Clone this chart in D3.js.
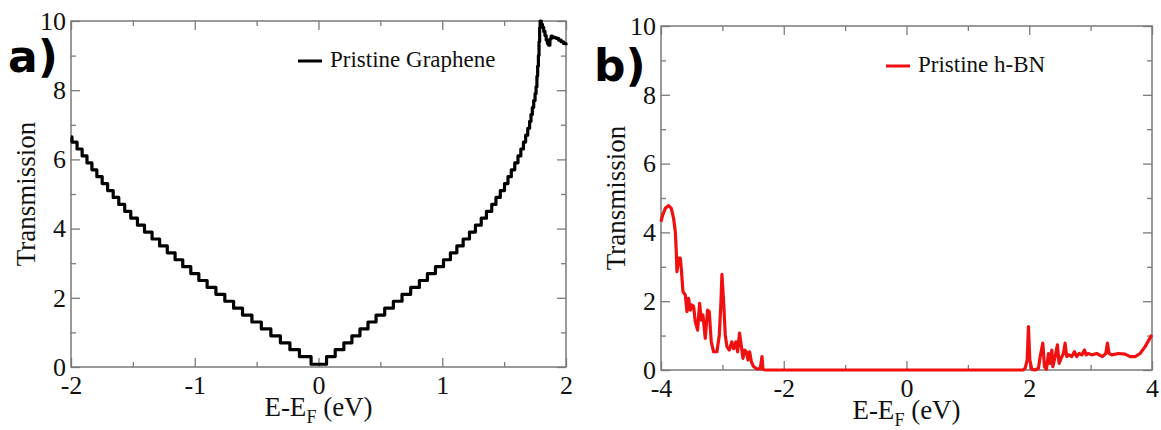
<!DOCTYPE html>
<html>
<head>
<meta charset="utf-8">
<script src="https://cdn.jsdelivr.net/npm/d3@7"></script>
<style>
  body { margin: 0; background: #fff; }
  svg { display: block; }
</style>
</head>
<body>
<div id="chart"></div>
<script>
// graphene transmission (staircase), energy in eV
var grapheneE = [-2.000, -1.992, -1.951, -1.910, -1.871, -1.831, -1.791, -1.748, -1.704, -1.659,
  -1.614, -1.566, -1.517, -1.463, -1.406, -1.345, -1.284, -1.222, -1.159, -1.097,
  -1.032, -0.967, -0.900, -0.829, -0.757, -0.686, -0.614, -0.538, -0.462, -0.385,
  -0.308, -0.231, -0.154, -0.060, 0.065, 0.135, 0.205, 0.270, 0.335, 0.400,
  0.465, 0.535, 0.605, 0.675, 0.745, 0.815, 0.880, 0.945, 1.010, 1.066,
  1.118, 1.169, 1.220, 1.268, 1.315, 1.357, 1.400, 1.434, 1.469, 1.503,
  1.531, 1.558, 1.586, 1.612, 1.635, 1.656, 1.674, 1.691, 1.706, 1.717,
  1.728, 1.739, 1.750, 1.758, 1.765, 1.771, 1.777, 1.782, 1.787, 1.791,
  1.800, 1.810, 1.820, 1.830, 1.840, 1.850, 1.860, 1.870, 1.880, 1.890,
  1.900, 1.920, 1.940, 1.960, 1.980, 2.000];
var grapheneT = [6.65, 6.5, 6.3, 6.1, 5.9, 5.7, 5.5, 5.3, 5.1, 4.9,
  4.7, 4.5, 4.3, 4.1, 3.9, 3.7, 3.5, 3.3, 3.1, 2.9,
  2.7, 2.5, 2.3, 2.1, 1.9, 1.7, 1.5, 1.3, 1.1, 0.9,
  0.7, 0.5, 0.3, 0.08, 0.3, 0.5, 0.7, 0.9, 1.1, 1.3,
  1.5, 1.7, 1.9, 2.1, 2.3, 2.5, 2.7, 2.9, 3.1, 3.3,
  3.5, 3.7, 3.9, 4.1, 4.3, 4.5, 4.7, 4.9, 5.1, 5.3,
  5.5, 5.7, 5.9, 6.1, 6.3, 6.5, 6.7, 6.9, 7.1, 7.3,
  7.5, 7.7, 7.9, 8.1, 8.4, 8.7, 9.0, 9.4, 9.8, 10.0,
  9.9, 9.82, 9.7, 9.58, 9.45, 9.35, 9.3, 9.48, 9.56, 9.54,
  9.52, 9.5, 9.45, 9.4, 9.35, 9.3];

// h-BN transmission
var hbnE = [-4.000, -3.973, -3.930, -3.876, -3.832, -3.795, -3.767, -3.751, -3.740, -3.713,
  -3.686, -3.670, -3.642, -3.604, -3.577, -3.550, -3.523, -3.495, -3.468, -3.441,
  -3.403, -3.371, -3.344, -3.317, -3.279, -3.241, -3.214, -3.181, -3.143, -3.088,
  -3.050, -3.023, -3.007, -2.980, -2.953, -2.926, -2.888, -2.845, -2.818, -2.779,
  -2.752, -2.720, -2.693, -2.664, -2.637, -2.610, -2.582, -2.556, -2.528, -2.492,
  -2.438, -2.384, -2.355, -2.339, -2.300, 1.900, 1.933, 1.966, 1.987, 2.009,
  2.042, 2.096, 2.150, 2.178, 2.221, 2.248, 2.280, 2.313, 2.335, 2.368,
  2.384, 2.422, 2.459, 2.486, 2.519, 2.557, 2.584, 2.611, 2.649, 2.693,
  2.736, 2.774, 2.812, 2.857, 2.900, 2.927, 2.965, 3.019, 3.101, 3.192,
  3.247, 3.274, 3.301, 3.345, 3.453, 3.562, 3.643, 3.725, 3.806, 3.888,
  3.997];
var hbnT = [4.31, 4.5, 4.7, 4.78, 4.7, 4.41, 4.02, 3.44, 2.86, 3.25,
  3.25, 2.96, 2.28, 2.18, 1.7, 2.08, 1.74, 1.89, 1.84, 1.4,
  1.16, 1.94, 1.45, 1.6, 0.92, 1.74, 1.7, 0.82, 0.53, 0.53,
  1.02, 1.99, 2.78, 1.99, 1.02, 0.68, 0.58, 0.82, 0.62, 0.82,
  0.53, 1.07, 0.72, 0.34, 0.58, 0.53, 0.29, 0.53, 0.24, 0.1,
  0.03, 0.03, 0.39, 0.02, 0, 0, 0.05, 0.29, 1.26, 0.29,
  0.02, 0, 0.05, 0.39, 0.78, 0.1, 0.02, 0.48, 0.19, 0.58,
  0.1, 0.39, 0.73, 0.19, 0.34, 0.48, 0.78, 0.39, 0.44, 0.39,
  0.53, 0.39, 0.48, 0.44, 0.58, 0.44, 0.48, 0.44, 0.48, 0.39,
  0.48, 0.78, 0.48, 0.44, 0.48, 0.46, 0.39, 0.39, 0.48, 0.68,
  1.02];

// tick values
var yTicks = [0, 2, 4, 6, 8, 10];
var yMinor = [1, 3, 5, 7, 9];
var xTicksA = [-2, -1, 0, 1, 2];
var xMinorA = [-1.5, -0.5, 0.5, 1.5];
var xTicksB = [-4, -2, 0, 2, 4];
var xMinorB = [-3, -1, 1, 3];

var svgWidth = 1161;
var svgHeight = 430;

var svg = d3.select("#chart")
  .append("svg")
  .attr("width", svgWidth)
  .attr("height", svgHeight)
  .style("background", "#fff");

var axisColor = "#7a7a7a";
var serif = "'Liberation Serif', 'Times New Roman', serif";
var tickFmt = d => String(d);   // plain hyphen minus, no decimals

function drawPanel(p) {
  var width = p.right - p.left;
  var height = p.bottom - p.top;

  var g = svg.append("g")
    .attr("transform", `translate(${p.left}, ${p.top})`);

  var x = d3.scaleLinear().domain(p.xDomain).range([0, width]);
  var y = d3.scaleLinear().domain([0, 10]).range([height, 0]);

  // minor ticks on all four sides
  var minor = [
    d3.axisBottom(x).tickValues(p.xMinor).tickSize(-5).tickSizeOuter(0).tickFormat(""),
    d3.axisTop(x).tickValues(p.xMinor).tickSize(-5).tickSizeOuter(0).tickFormat(""),
    d3.axisLeft(y).tickValues(yMinor).tickSize(-5).tickSizeOuter(0).tickFormat(""),
    d3.axisRight(y).tickValues(yMinor).tickSize(-5).tickSizeOuter(0).tickFormat("")
  ];
  var offs = [`translate(0, ${height})`, "translate(0, 0)", "translate(0, 0)", `translate(${width}, 0)`];
  minor.forEach(function(ax, i) {
    g.append("g").attr("transform", offs[i]).call(ax);
  });

  // major ticks, labelled on bottom and left
  g.append("g")
    .attr("transform", `translate(0, ${height})`)
    .call(d3.axisBottom(x).tickValues(p.xTicks).tickSize(-9).tickSizeOuter(0).tickPadding(9).tickFormat(tickFmt));
  g.append("g")
    .call(d3.axisTop(x).tickValues(p.xTicks).tickSize(-9).tickSizeOuter(0).tickFormat(""));
  g.append("g")
    .call(d3.axisLeft(y).tickValues(yTicks).tickSize(-9).tickSizeOuter(0).tickPadding(5).tickFormat(tickFmt));
  g.append("g")
    .attr("transform", `translate(${width}, 0)`)
    .call(d3.axisRight(y).tickValues(yTicks).tickSize(-9).tickSizeOuter(0).tickFormat(""));

  g.selectAll(".domain").remove();
  g.selectAll(".tick line").attr("stroke", axisColor).attr("stroke-width", 1.3);
  g.selectAll(".tick text")
    .attr("font-family", serif)
    .style("font-family", serif)
    .style("font-size", "26px")
    .attr("fill", "#111");

  // frame
  g.append("rect")
    .attr("width", width)
    .attr("height", height)
    .attr("fill", "none")
    .attr("stroke", axisColor)
    .attr("stroke-width", 1.5);

  // data line
  var pts = p.E.map(function(e, i) { return [e, p.T[i]]; });
  var line = d3.line()
    .x(d => x(d[0]))
    .y(d => y(d[1]))
    .curve(p.curve);
  g.append("path")
    .datum(pts)
    .attr("d", line)
    .attr("fill", "none")
    .attr("stroke", p.color)
    .attr("stroke-width", 3.2)
    .attr("stroke-linejoin", "round");

  // legend
  g.append("line")
    .attr("x1", p.legX - 32).attr("x2", p.legX - 8)
    .attr("y1", p.legY - 6).attr("y2", p.legY - 6)
    .attr("stroke", p.color)
    .attr("stroke-width", 3);
  g.append("text")
    .attr("x", p.legX)
    .attr("y", p.legY)
    .style("font-family", serif)
    .style("font-size", "23px")
    .attr("fill", "#111")
    .text(p.legend);

  // axis titles
  g.append("text")
    .attr("transform", `translate(${-p.left + p.yTitleX}, ${height / 2}) rotate(-90)`)
    .attr("text-anchor", "middle")
    .style("font-family", serif)
    .style("font-size", "27px")
    .attr("fill", "#111")
    .text("Transmission");

  var xt = g.append("text")
    .attr("x", width / 2)
    .attr("y", height + 49)
    .attr("text-anchor", "middle")
    .style("font-family", serif)
    .style("font-size", "27px")
    .attr("fill", "#111");
  xt.append("tspan").text("E-E");
  xt.append("tspan").attr("dy", 7).style("font-size", "18px").text("F");
  xt.append("tspan").attr("dy", -7).text(" (eV)");

  // panel letter
  svg.append("text")
    .attr("x", p.tagX)
    .attr("y", p.tagY)
    .style("font-family", "'DejaVu Sans', sans-serif")
    .style("font-weight", "bold")
    .style("font-size", "44px")
    .attr("fill", "#000")
    .text(p.tag);
}

drawPanel({
  left: 71, right: 566, top: 21, bottom: 367,
  xDomain: [-2, 2], xTicks: xTicksA, xMinor: xMinorA,
  E: grapheneE, T: grapheneT, curve: d3.curveStepAfter, color: "#000",
  legend: "Pristine Graphene", legX: 259, legY: 46,
  yTitleX: 35, tag: "a)", tagX: 8, tagY: 72
});

drawPanel({
  left: 661, right: 1152, top: 26, bottom: 370,
  xDomain: [-4, 4], xTicks: xTicksB, xMinor: xMinorB,
  E: hbnE, T: hbnT, curve: d3.curveLinear, color: "#f01010",
  legend: "Pristine h-BN", legX: 257, legY: 46,
  yTitleX: 625, tag: "b)", tagX: 594, tagY: 81
});
</script>
</body>
</html>
